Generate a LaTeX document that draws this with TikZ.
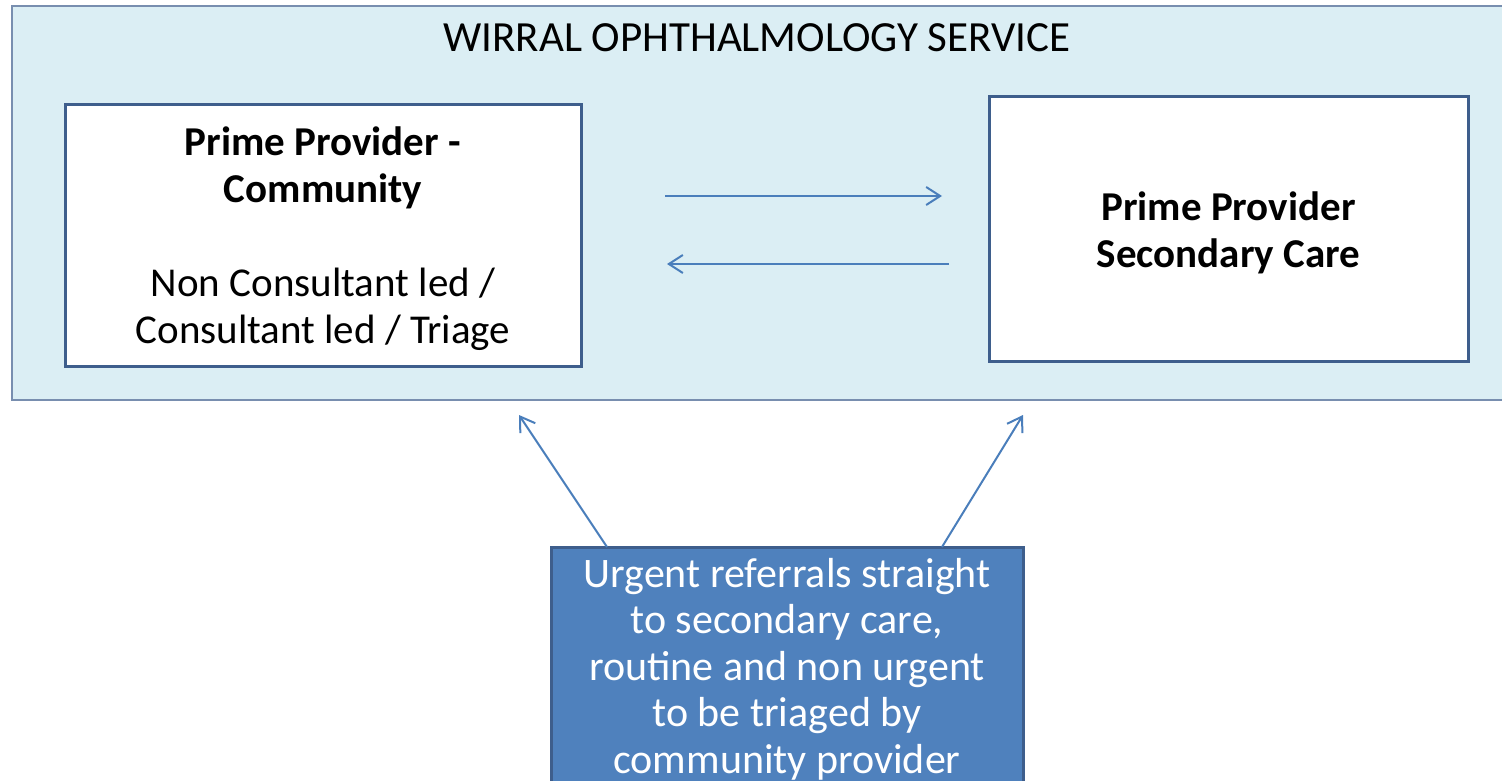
\documentclass[tikz,border=0pt]{standalone}
\usepackage{fontspec}
\setmainfont{Carlito}
\usetikzlibrary{arrows.meta}
\definecolor{paleblue}{RGB}{219,238,244}
\definecolor{frameblue}{RGB}{62,94,140}
\definecolor{lineblue}{RGB}{74,126,187}
\definecolor{fillblue}{RGB}{79,129,189}
\begin{document}
\begin{tikzpicture}[x=1pt,y=-1pt]
		\tikzstyle{service}=[draw=frameblue!70,
			line width=1.5pt,
			fill=paleblue,
			inner sep=0pt,
			];
		\tikzstyle{provider}=[draw=frameblue,
			line width=3pt,
			fill=white,
			inner sep=0pt,
			align=center,
			font=\fontsize{41pt}{47pt}\selectfont,
			];
		\tikzstyle{note}=[draw=frameblue,
			line width=3pt,
			fill=fillblue,
			text=white,
			inner sep=0pt,
			align=center,
			font=\fontsize{42pt}{46.5pt}\selectfont,
			];
		\tikzstyle{link}=[lineblue,
			line width=2pt,
			-{Straight Barb[length=14pt,width=18pt]},
			];

		\useasboundingbox (0,0) rectangle (1502,781);

		\node [service] (wirral) at (761,203) [minimum width=1498,minimum height=394] {};
		\node (title) at (757,38) [font=\fontsize{43pt}{44pt}\selectfont] {WIRRAL OPHTHALMOLOGY SERVICE};

		\node [provider] (community) at (323,235.5) [minimum width=516,minimum height=261] {};
		\node (communitytext) at (323,239)
			[align=center,font=\fontsize{41pt}{47pt}\selectfont]
			{\bfseries Prime Provider -\\ \bfseries Community\\[47pt] Non Consultant led /\\ Consultant led / Triage};
		\node [provider] (secondary) at (1228.5,229) [minimum width=479,minimum height=264] {};
		\node (secondarytext) at (1228.5,233)
			[align=center,font=\fontsize{41pt}{47pt}\selectfont]
			{\bfseries Prime Provider\\ \bfseries Secondary Care};

		\node [note] (urgent) at (787,666) [minimum width=472,minimum height=238] {};
		\node (urgenttext) at (787,669)
			[align=center,text=white,font=\fontsize{42pt}{46.5pt}\selectfont]
			{Urgent referrals straight\\ to secondary care,\\ routine and non urgent\\ to be triaged by\\ community provider};

		% ends of the connectors
		\coordinate (toR1) at (665,196);
		\coordinate (toR2) at (942,196);
		\coordinate (toL1) at (949,264);
		\coordinate (toL2) at (667,264);
		\coordinate (upL1) at (607,547);
		\coordinate (upL2) at (519,415);
		\coordinate (upR1) at (942,547);
		\coordinate (upR2) at (1023,415);

		\draw [link] (toR1) -- (toR2);
		\draw [link] (toL1) -- (toL2);
		\draw [link] (upL1) -- (upL2);
		\draw [link] (upR1) -- (upR2);
	\end{tikzpicture}
\end{document}
